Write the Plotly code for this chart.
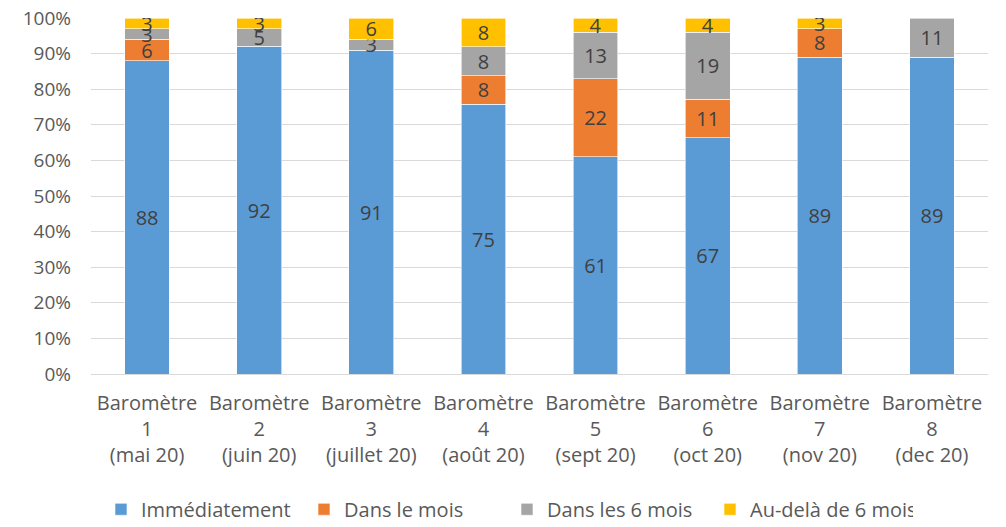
import plotly.graph_objects as go

categories = [
    "Baromètre<br>1<br>(mai 20)",
    "Baromètre<br>2<br>(juin 20)",
    "Baromètre<br>3<br>(juillet 20)",
    "Baromètre<br>4<br>(août 20)",
    "Baromètre<br>5<br>(sept 20)",
    "Baromètre<br>6<br>(oct 20)",
    "Baromètre<br>7<br>(nov 20)",
    "Baromètre<br>8<br>(dec 20)",
]
immediatement = [88, 92, 91, 75, 61, 67, 89, 89]
dans_le_mois = [6, 0, 0, 8, 22, 11, 8, 0]
dans_6_mois = [3, 5, 3, 8, 13, 19, 0, 11]
au_dela = [3, 3, 6, 8, 4, 4, 3, 0]

series = [
    ("Immédiatement", immediatement, "#5B9BD5"),
    ("Dans le mois", dans_le_mois, "#ED7D31"),
    ("Dans les 6 mois", dans_6_mois, "#A5A5A5"),
    ("Au-delà de 6 mois", au_dela, "#FFC000"),
]

font_family = "'Open Sans', sans-serif"

fig = go.Figure()
for name, vals, color in series:
    fig.add_trace(go.Bar(
        name=name,
        x=categories,
        y=[v if v else None for v in vals],
        text=[str(v) if v else "" for v in vals],
        textposition="inside",
        insidetextanchor="middle",
        textangle=0,
        textfont=dict(color="#404040", size=20, family=font_family),
        marker=dict(color=color, line=dict(color="white", width=0.6)),
        hoverinfo="skip",
    ))

fig.update_layout(
    barmode="stack",
    barnorm="percent",
    bargap=0.6,
    width=998,
    height=519,
    margin=dict(l=83, r=18, t=10, b=153, autoexpand=False),
    paper_bgcolor="white",
    plot_bgcolor="white",
    font=dict(family=font_family, size=19, color="#595959"),
    uniformtext=dict(minsize=20, mode="show"),
    legend=dict(
        orientation="h",
        x=0.5, xanchor="center",
        xref="container",
        y=-0.38, yanchor="middle",
        yref="paper",
        font=dict(size=20, color="#595959"),
        traceorder="normal",
        itemwidth=30,
        entrywidth=158,
        entrywidthmode="pixels",
    ),
    showlegend=True,
)
fig.update_yaxes(
    range=[0, 100],
    tickvals=[0, 10, 20, 30, 40, 50, 60, 70, 80, 90, 100],
    ticktext=["0%", "10%", "20%", "30%", "40%", "50%", "60%", "70%", "80%", "90%", "100%"],
    showgrid=True,
    gridcolor="#D9D9D9",
    gridwidth=1,
    zeroline=False,
    showline=False,
    ticks="",
    ticklabelstandoff=19,
    ticklabeloverflow="allow",
    automargin=False,
    tickfont=dict(size=19, color="#595959"),
)
fig.update_xaxes(
    showline=True,
    linecolor="#D9D9D9",
    ticks="",
    ticklabelstandoff=11,
    ticklabeloverflow="allow",
    automargin=False,
    tickfont=dict(size=20, color="#595959"),
    tickangle=0,
)

fig.write_html("out.html")
